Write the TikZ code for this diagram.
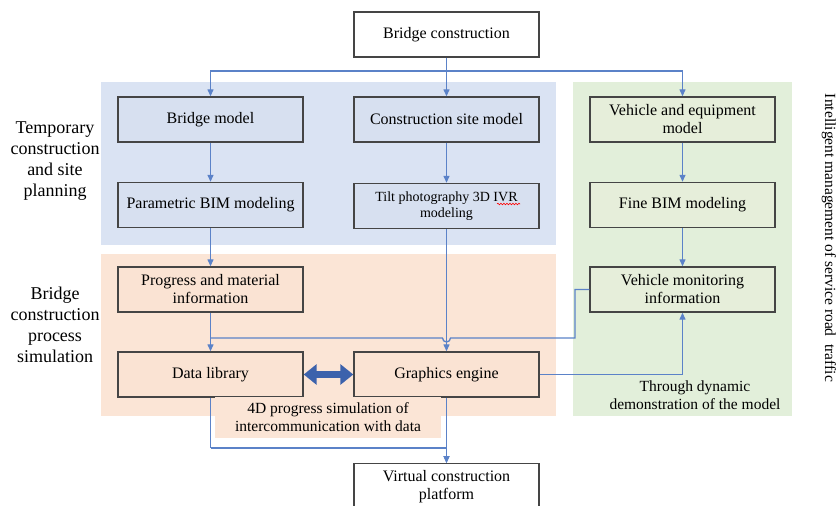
\documentclass[tikz,border=0pt]{standalone}
\usepackage{fontspec}
\setmainfont{Liberation Serif}
\usetikzlibrary{arrows.meta,decorations.pathmorphing}
\definecolor{regblue}{HTML}{DAE3F3}
\definecolor{regorange}{HTML}{FBE5D6}
\definecolor{reggreen}{HTML}{E2EFDA}
\definecolor{boxblue}{HTML}{D7E0F0}
\definecolor{boxorange}{HTML}{FAE3D3}
\definecolor{boxgreen}{HTML}{E6EEDA}
\definecolor{linec}{HTML}{5B82C8}
\definecolor{darrow}{HTML}{3C62AC}
\definecolor{bordc}{HTML}{454545}
\tikzset{
  box/.style={draw=bordc, line width=1.4pt, minimum width=185pt, minimum height=45pt,
    align=center, inner sep=2pt, font=\fontsize{16}{18}\selectfont},
  conn/.style={draw=linec, line width=1.3pt, -{Triangle[length=7pt,width=6pt]}},
  plain/.style={draw=linec, line width=1.3pt},
  sidelab/.style={align=center, font=\fontsize{18}{21}\selectfont},
  lab/.style={align=center, font=\fontsize{15.5}{18}\selectfont, inner sep=1pt}
}
\begin{document}
\begin{tikzpicture}[x=1pt,y=-1pt]
\useasboundingbox (0,0) rectangle (836,506);
\clip (0,0) rectangle (836,506);
% regions
\fill[regblue] (101,82) rectangle (556,245);
\fill[regorange] (101,254) rectangle (556,416);
\fill[reggreen] (573,82) rectangle (792,416);
% boxes
\node[box, fill=white] (bc) at (446.5,34.5) {Bridge construction};
\node[box, fill=boxblue] (bm) at (210.5,119.5) {Bridge model};
\node[box, fill=boxblue] (csm) at (446.5,119.5) {Construction site model};
\node[box, fill=boxgreen] (vem) at (682.5,119.5) {Vehicle and equipment\\model};
\node[box, fill=boxblue] (pbm) at (210.5,205) {Parametric BIM modeling};
\node[box, fill=boxblue, font=\fontsize{14}{15.5}\selectfont] (tp) at (446.5,206) {Tilt photography 3D IVR\\modeling};
\node[box, fill=boxgreen] (fbm) at (682.5,205) {Fine BIM modeling};
\node[box, fill=boxorange] (pmi) at (210.5,289.5) {Progress and material\\information};
\node[box, fill=boxgreen] (vmi) at (682.5,289.5) {Vehicle monitoring\\information};
\node[box, fill=boxorange] (dl) at (210.5,374.5) {Data library};
\node[box, fill=boxorange] (ge) at (446.5,374.5) {Graphics engine};
\node[box, fill=white, anchor=north] (vcp) at (446.5,463) {Virtual construction\\platform};
% spell-check squiggle
\draw[red, line width=0.6pt, decorate, decoration={snake, amplitude=0.8pt, segment length=3pt}] (497,204) -- (520,204);
% labels
\node[sidelab] (l1) at (55,161) {Temporary\\construction\\and site\\planning};
\node[sidelab] (l2) at (55,325) {Bridge\\construction\\process\\simulation};
\node[lab, rotate=-90] (l3) at (829,238) {Intelligent management of service road\ \ traffic};
\node[lab] (l4) at (695,395) {Through dynamic\\demonstration of the model};
% connectors
\coordinate (j1) at (446.5,71);
\draw[conn] (bc.south) -- (csm.north);
\draw[conn] (j1) -| (bm.north);
\draw[conn] (j1) -| (vem.north);
\draw[conn] (bm.south) -- (pbm.north);
\draw[conn] (csm.south) -- (tp.north);
\draw[conn] (vem.south) -- (fbm.north);
\draw[conn] (pbm.south) -- (pmi.north);
\draw[conn] (tp.south) -- (ge.north);
\draw[conn] (fbm.south) -- (vmi.north);
\draw[conn] (pmi.south) -- (dl.north);
\coordinate (j2) at (210.5,338);
\draw[plain] (j2) -- (442.5,338) arc[start angle=180, end angle=0, radius=4] -- (575,338) |- (vmi.west);
\draw[conn] (ge.east) -| (vmi.south);
\coordinate (j3) at (210.5,448);
\draw[plain] (dl.south) -- (j3);
\draw[conn] (j3) -| (vcp.north);
\draw[conn] (ge.south) -- (vcp.north);
% double arrow
\draw[darrow, line width=7pt, {Triangle[length=13pt,width=20pt]}-{Triangle[length=13pt,width=20pt]}] (dl.east) -- (ge.west);
% 4D label
\node[lab, fill=regorange, minimum width=226pt, minimum height=41pt] (l5) at (328,417.5) {4D progress simulation of\\intercommunication with data};
\end{tikzpicture}
\end{document}
